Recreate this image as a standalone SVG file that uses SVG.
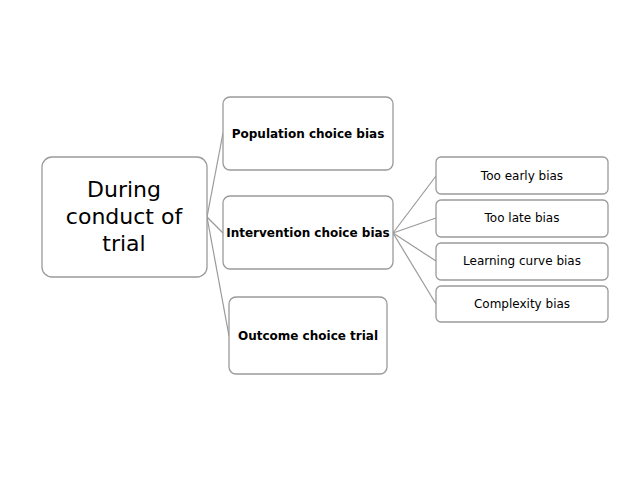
<svg xmlns="http://www.w3.org/2000/svg" width="638" height="478" viewBox="0 0 638 478">
<style>
rect{fill:#fff;stroke:#9a9a9a;stroke-width:1.3}
text{font-family:"DejaVu Sans","Noto Sans",sans-serif;text-anchor:middle;fill:#000}
.b{font-weight:bold;font-size:12px}
.s{font-size:12px}
.r{font-size:22px}
#conn line{stroke:#9a9a9a;stroke-width:1.2}
</style>
<rect x="0" y="0" width="638" height="478" style="fill:#fff;stroke:none"/>
<g id="conn">
<line x1="207" y1="217" x2="223" y2="133"/>
<line x1="207" y1="217" x2="223" y2="233"/>
<line x1="207" y1="217" x2="229" y2="336"/>
<line x1="393" y1="233" x2="436" y2="176"/>
<line x1="393" y1="233" x2="436" y2="218"/>
<line x1="393" y1="233" x2="436" y2="261"/>
<line x1="393" y1="233" x2="436" y2="304"/>
</g>
<g id="root"><rect x="42" y="157" width="165" height="120" rx="10"/>
<text class="r" x="124" y="197">During</text><text class="r" x="124" y="224">conduct of</text><text class="r" x="124" y="251">trial</text></g>
<g id="pop"><rect x="223" y="97" width="170" height="73" rx="7"/><text class="b" x="308" y="138">Population choice bias</text></g>
<g id="int"><rect x="223" y="196" width="170" height="73" rx="7"/><text class="b" x="308" y="237">Intervention choice bias</text></g>
<g id="out"><rect x="229" y="297" width="158" height="77" rx="7"/><text class="b" x="308" y="340">Outcome choice trial</text></g>
<g id="early"><rect x="436" y="157" width="172" height="37" rx="5"/><text class="s" x="522" y="180">Too early bias</text></g>
<g id="late"><rect x="436" y="200" width="172" height="37" rx="5"/><text class="s" x="522" y="222">Too late bias</text></g>
<g id="learn"><rect x="436" y="243" width="172" height="37" rx="5"/><text class="s" x="522" y="265">Learning curve bias</text></g>
<g id="comp"><rect x="436" y="286" width="172" height="36" rx="5"/><text class="s" x="522" y="308">Complexity bias</text></g>
</svg>
